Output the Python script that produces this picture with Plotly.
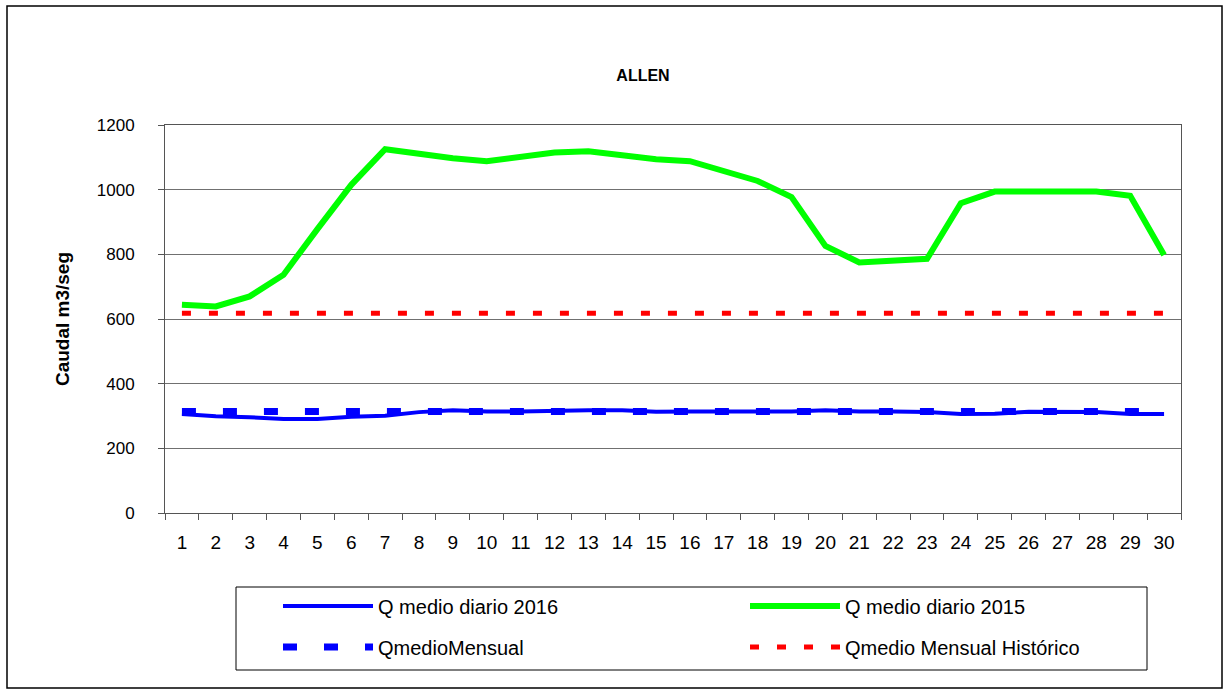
import plotly.graph_objects as go

days = list(range(1, 31))
q_2016 = [306, 299, 296, 291, 291, 298, 301, 312, 318, 314, 314, 317, 318, 318, 313,
          314, 314, 314, 314, 318, 314, 314, 312, 306, 307, 313, 314, 312, 306, 306]
q_2015 = [644, 639, 670, 737, 878, 1015, 1125, 1110, 1097, 1088, 1100, 1115, 1119, 1107, 1094,
          1088, 1058, 1027, 977, 826, 775, 780, 786, 958, 994, 994, 994, 994, 981, 798]
q_mensual = [314] * 30
q_historico = [618] * 30
y_ticks = [0, 200, 400, 600, 800, 1000, 1200]

FONT = "Arial, Liberation Sans, sans-serif"

fig = go.Figure()
fig.add_trace(go.Scatter(x=days, y=q_2016, mode="lines", name="Q medio diario 2016",
                         line=dict(color="#0000FF", width=4), legend="legend"))
fig.add_trace(go.Scatter(x=days, y=q_2015, mode="lines", name="Q medio diario 2015",
                         line=dict(color="#00FF00", width=6), legend="legend2"))
fig.add_trace(go.Scatter(x=days, y=q_mensual, mode="lines", name="QmedioMensual",
                         line=dict(color="#0000FF", width=7, dash="14px,27px"), legend="legend3"))
fig.add_trace(go.Scatter(x=days, y=q_historico, mode="lines", name="Qmedio Mensual Histórico",
                         line=dict(color="#FF0000", width=5, dash="9px,18px"), legend="legend4"))

W, H = 1228, 691
L, R, T, B = 165, 1181, 125, 513
pw, ph = R - L, B - T

def px_x(x):
    return (x - L) / pw

def px_y(y):
    return (B - y) / ph

legend_common = dict(orientation="h", xanchor="left", yanchor="middle",
                     borderwidth=0, bgcolor="rgba(0,0,0,0)",
                     font=dict(size=20, family=FONT, color="black"), itemwidth=90)

fig.update_layout(
    width=W, height=H,
    margin=dict(l=L, r=W - R, t=T, b=H - B, pad=0),
    paper_bgcolor="white", plot_bgcolor="white",
    font=dict(family=FONT, color="black"),
    title=dict(text="<b>ALLEN</b>", x=643 / W, xanchor="center",
               y=1 - 75 / H, yanchor="middle", font=dict(size=16, family=FONT)),
    xaxis=dict(type="category", tickmode="array", tickvals=days, ticktext=[str(d) for d in days],
               range=[-0.5, 29.5], showgrid=False, showline=True, linecolor="#555555",
               linewidth=1, mirror=True, ticks="outside", ticklen=6, tickcolor="#555555",
               tickson="boundaries", tickfont=dict(size=19), ticklabelstandoff=12),
    yaxis=dict(range=[0, 1200], tickvals=y_ticks, showgrid=True, gridcolor="#707070",
               gridwidth=1, showline=True, linecolor="#555555", linewidth=1, mirror=True,
               ticks="outside", ticklen=6, tickcolor="#555555", tickfont=dict(size=17),
               ticklabelstandoff=20, zeroline=False,
               title=dict(text="<b>Caudal m3/seg</b>", font=dict(size=19), standoff=22)),
    showlegend=True,
    legend=dict(x=px_x(278), y=px_y(606), **legend_common),
    legend2=dict(x=px_x(745), y=px_y(606), **legend_common),
    legend3=dict(x=px_x(278), y=px_y(647), **legend_common),
    legend4=dict(x=px_x(745), y=px_y(647), **legend_common),
    shapes=[
        dict(type="rect", xref="paper", yref="paper",
             x0=px_x(7), x1=px_x(1222), y0=px_y(688), y1=px_y(6),
             line=dict(color="black", width=1.5), layer="below"),
        dict(type="rect", xref="paper", yref="paper",
             x0=px_x(236), x1=px_x(1147), y0=px_y(670), y1=px_y(587),
             line=dict(color="black", width=1), layer="below"),
    ],
)

fig.write_html("out.html", config={"displayModeBar": False},
               post_script="document.body.style.margin='0';")
